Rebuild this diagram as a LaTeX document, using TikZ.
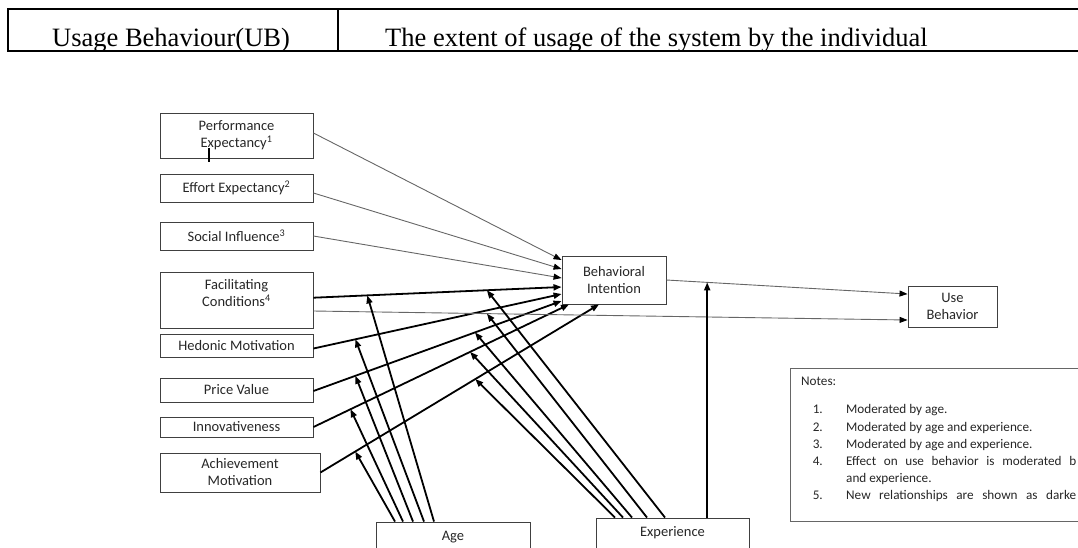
\documentclass[tikz,border=0pt]{standalone}
\usepackage{fontspec}
\setmainfont{Liberation Serif}
\newfontfamily\calibri{Carlito}
\usepackage{tikz}
\usetikzlibrary{arrows.meta}

\begin{document}
\begin{tikzpicture}[x=1pt, y=-1pt,
        box/.style={draw=black!75, line width=0.9pt, inner sep=0pt, align=center, text=black!85,
            font=\calibri\fontsize{14.5}{17}\selectfont},
        thinarrow/.style={-{Triangle[length=8pt,width=6pt,color=black]}, draw=black!60, line width=0.9pt},
        darkarrow/.style={-{Triangle[length=8pt,width=6pt]}, line width=1.8pt},
        notetext/.style={inner sep=0pt, text=black!85, font=\calibri\fontsize{13.2}{15}\selectfont}]
    \useasboundingbox (0,0) rectangle (1078,547);
    \clip (0,0) rectangle (1078,547);

    % table row above the figure
    \draw[line width=2pt] (7,9) -- (1090,9);
    \draw[line width=2pt] (7,51) -- (1090,51);
    \draw[line width=1.5pt] (8,9) -- (8,51);
    \draw[line width=1.5pt] (338,9) -- (338,51);
    \node[anchor=base west, inner sep=0pt, font=\fontsize{26.5}{30}\selectfont] at (52,46) (ubterm) {Usage Behaviour(UB)};
    \node[anchor=base west, inner sep=0pt, font=\fontsize{26.5}{30}\selectfont] at (385,46) (ubdef) {The extent of usage of the system by the individual};

    % constructs
    \node[box, minimum width=153pt, minimum height=45pt] at (236.5,135.5) (pe) {Performance\\Expectancy\textsuperscript{1}};
    \node[box, minimum width=153pt, minimum height=28pt] at (236.5,188)   (ee) {Effort Expectancy\textsuperscript{2}};
    \node[box, minimum width=153pt, minimum height=28pt] at (236.5,236)   (si) {Social Influence\textsuperscript{3}};
    \node[box, minimum width=153pt, minimum height=56pt] at (236.5,300)   (fc) {Facilitating\\Conditions\textsuperscript{4}\\[-3pt]\mbox{}};
    \node[box, minimum width=153pt, minimum height=23pt] at (236.5,345.5) (hm) {Hedonic Motivation};
    \node[box, minimum width=153pt, minimum height=24pt] at (236.5,390)   (pv) {Price Value};
    \node[box, minimum width=153pt, minimum height=20pt] at (236.5,427)   (inn) {Innovativeness};
    \node[box, minimum width=160pt, minimum height=39pt] at (240,472.5)   (am) {Achievement\\Motivation};
    \node[box, minimum width=104pt, minimum height=48pt] at (614,280)     (bi) {Behavioral\\Intention};
    \node[box, minimum width=89pt,  minimum height=41pt] at (952.5,306.5) (ub) {Use\\Behavior};
    \node[box, minimum width=154pt, minimum height=30pt] at (453,537)     (age) {Age};
    \node[box, minimum width=153pt, minimum height=30pt] at (672.5,533)   (exp) {Experience};
    \draw[line width=1.2pt] (209,148) -- (209,162);

    % paths into intention and behavior
    \draw[thinarrow] ([yshift=2.5pt]pe.east) -- ([yshift=20pt]bi.west);
    \draw[thinarrow] ([yshift=-5pt]ee.east) -- ([yshift=11pt]bi.west);
    \draw[thinarrow] (si.east) -- ([yshift=2pt]bi.west);
    \draw[darkarrow] ([yshift=2.3pt]fc.east) -- coordinate[pos=0.217] (fcage) coordinate[pos=0.699] (fcexp) ([yshift=-7pt]bi.west);
    \draw[darkarrow] ([yshift=-3pt]hm.east) -- coordinate[pos=0.169] (hmage) ([yshift=-14pt]bi.west);
    \draw[darkarrow] ([yshift=-1pt]pv.east) -- coordinate[pos=0.169] (pvage) coordinate[pos=0.651] (pvexp) ([yshift=-21pt]bi.west);
    \draw[darkarrow] (inn.east) -- coordinate[pos=0.145] (innage) coordinate[pos=0.613] (innexp) ([xshift=-45pt]bi.south);
    \draw[darkarrow] (am.east) -- coordinate[pos=0.125] (amage) coordinate[pos=0.556] (amexp) ([xshift=-15pt]bi.south);
    \draw[thinarrow] (bi.east) -- coordinate[pos=0.169] (biexp) ([yshift=12.5pt]ub.west);
    \draw[thinarrow] ([yshift=-11pt]fc.east) -- coordinate[pos=0.292] (fcubexp) ([yshift=-13.5pt]ub.west);

    % moderators
    \draw[darkarrow] ([xshift=-58pt]age.north) -- (amage);
    \draw[darkarrow] ([xshift=-50pt]age.north) -- (innage);
    \draw[darkarrow] ([xshift=-40pt]age.north) -- (pvage);
    \draw[darkarrow] ([xshift=-29pt]age.north) -- (hmage);
    \draw[darkarrow] ([xshift=-19pt]age.north) -- (fcage);
    \draw[darkarrow] ([xshift=-57.5pt]exp.north) -- (amexp);
    \draw[darkarrow] ([xshift=-49.5pt]exp.north) -- (innexp);
    \draw[darkarrow] ([xshift=-40.5pt]exp.north) -- (pvexp);
    \draw[darkarrow] ([xshift=-25.5pt]exp.north) -- (fcubexp);
    \draw[darkarrow] ([xshift=-7.5pt]exp.north) -- (fcexp);
    \draw[darkarrow] (biexp |- exp.north) -- (biexp);

    % notes
    \draw[draw=black!60, line width=0.9pt] (1090,368) -- (790,368) -- (790,521) -- (1090,521);
    \node[notetext, anchor=base west] at (801,385.5) (notes) {Notes:};
    \node[notetext, anchor=base east] at (823,413.5) (k1) {1.};
    \node[notetext, anchor=base east] at (823,431.5) (k2) {2.};
    \node[notetext, anchor=base east] at (823,448.5) (k3) {3.};
    \node[notetext, anchor=base east] at (823,465.5) (k4) {4.};
    \node[notetext, anchor=base east] at (823,499.5) (k5) {5.};
    \node[notetext, anchor=base west] at (846,413.5) (n1) {Moderated by age.};
    \node[notetext, anchor=base west] at (846,431.5) (n2) {Moderated by age and experience.};
    \node[notetext, anchor=base west] at (846,448.5) (n3) {Moderated by age and experience.};
    \node[notetext, anchor=base west] at (846,465.5) (n4) {\makebox[230pt][s]{Effect on use behavior is moderated b}};
    \node[notetext, anchor=base west] at (846,482.5) (n4b) {and experience.};
    \node[notetext, anchor=base west] at (846,499.5) (n5) {\makebox[230pt][s]{New relationships are shown as darke}};
\end{tikzpicture}
\end{document}
